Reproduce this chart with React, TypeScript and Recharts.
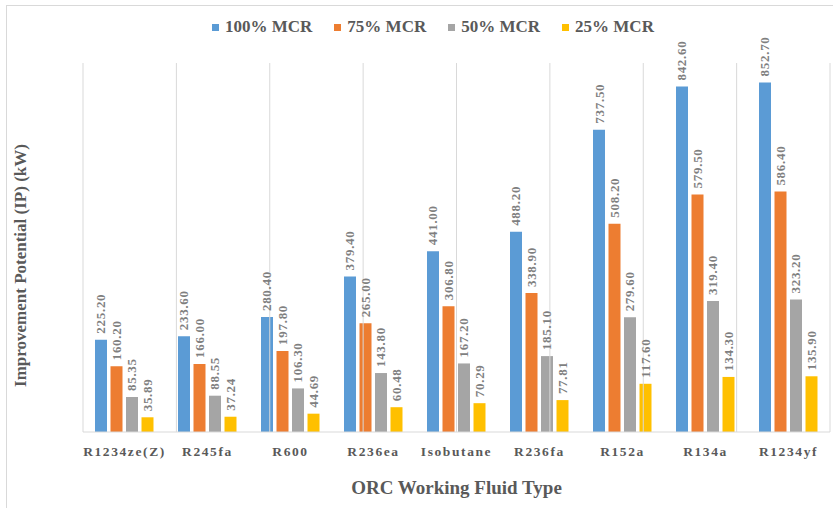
import React from "react";
import {
  Bar,
  BarChart,
  LabelList,
  Legend,
  ReferenceLine,
  XAxis,
  YAxis,
} from "recharts";

const fluids = [
  "R1234ze(Z)",
  "R245fa",
  "R600",
  "R236ea",
  "Isobutane",
  "R236fa",
  "R152a",
  "R134a",
  "R1234yf",
];
const mcr100 = [225.2, 233.6, 280.4, 379.4, 441.0, 488.2, 737.5, 842.6, 852.7];
const mcr75 = [160.2, 166.0, 197.8, 265.0, 306.8, 338.9, 508.2, 579.5, 586.4];
const mcr50 = [85.35, 88.55, 106.3, 143.8, 167.2, 185.1, 279.6, 319.4, 323.2];
const mcr25 = [35.89, 37.24, 44.69, 60.48, 70.29, 77.81, 117.6, 134.3, 135.9];
const seriesNames = ["100% MCR", "75% MCR", "50% MCR", "25% MCR"];
const colors = ["#5B9BD5", "#ED7D31", "#A5A5A5", "#FFC000"];
const boundaries = [0, 1, 2, 3, 4, 5, 6, 7, 8, 9];

const data = fluids.map((name, i) => ({
  name,
  a: mcr100[i],
  b: mcr75[i],
  c: mcr50[i],
  d: mcr25[i],
}));

const FONT = '"Liberation Serif", "Times New Roman", serif';

// value labels, rotated and sitting just above each bar
const renderValue = (props: any) => {
  const { x, y, width, value } = props;
  const cx = Number(x) + Number(width) / 2;
  const ty = Number(y) - 6;
  return (
    <text
      x={cx}
      y={ty}
      transform={`rotate(-90 ${cx} ${ty})`}
      textAnchor="start"
      dominantBaseline="central"
      fontFamily={FONT}
      fontWeight="bold"
      fontSize={13}
      letterSpacing={0.7}
      fill="#7F7F7F"
    >
      {Number(value).toFixed(2)}
    </text>
  );
};

const YTitle = (props: any) => {
  const vb = props.viewBox || {};
  const cx = 20;
  const cy = vb.y + vb.height / 2 + 18;
  return (
    <text
      x={cx}
      y={cy}
      transform={`rotate(-90 ${cx} ${cy})`}
      textAnchor="middle"
      dominantBaseline="central"
      fontFamily={FONT}
      fontWeight="bold"
      fontSize={17}
      fill="#595959"
    >
      Improvement Potential (IP) (kW)
    </text>
  );
};

const XTitle = (props: any) => {
  const vb = props.viewBox || {};
  return (
    <text
      x={vb.x + vb.width / 2}
      y={487}
      textAnchor="middle"
      dominantBaseline="central"
      fontFamily={FONT}
      fontWeight="bold"
      fontSize={19}
      fill="#595959"
    >
      ORC Working Fluid Type
    </text>
  );
};

const renderLegend = () => (
  <div
    style={{
      display: "flex",
      fontFamily: FONT,
      fontWeight: "bold",
      fontSize: 17,
      lineHeight: "20px",
      color: "#595959",
    }}
  >
    {seriesNames.map((s, i) => (
      <div
        key={s}
        style={{
          display: "flex",
          alignItems: "center",
          marginRight: 22,
        }}
      >
        <span
          style={{
            display: "inline-block",
            width: 7,
            height: 7,
            background: colors[i],
            marginRight: 6,
          }}
        />
        <span>{s}</span>
      </div>
    ))}
  </div>
);

export default function App() {
  const keys = ["a", "b", "c", "d"];
  return (
    <div
      style={{
        position: "absolute",
        left: 0,
        top: 0,
        width: 833,
        height: 508,
        overflow: "hidden",
        background: "#fff",
      }}
    >
      <div
        style={{
          position: "absolute",
          left: 6,
          top: 5,
          width: 900,
          height: 600,
          border: "1px solid #D9D9D9",
        }}
      />
      <BarChart
        width={833}
        height={508}
        data={data}
        margin={{ top: 63, right: 3, left: 0, bottom: 0 }}
        barSize={12}
        barGap={3.5}
        style={{ position: "absolute", left: 0, top: 0 }}
      >
        <XAxis
          xAxisId="cat"
          dataKey="name"
          height={76}
          axisLine={{ stroke: "#D9D9D9" }}
          tickLine={false}
          tickMargin={8}
          interval={0}
          tick={{
            fontFamily: FONT,
            fontWeight: "bold",
            fontSize: 13.5,
            fill: "#595959",
            letterSpacing: 1.6,
          }}
          label={<XTitle />}
        />
        <XAxis
          xAxisId="grid"
          type="number"
          domain={[0, 9]}
          ticks={boundaries}
          orientation="top"
          height={0}
          hide
        />
        <YAxis
          width={83}
          domain={[0, 900]}
          tick={false}
          axisLine={false}
          tickLine={false}
          label={<YTitle />}
        />
        {boundaries.map((b) => (
          <ReferenceLine key={b} x={b} xAxisId="grid" stroke="#D9D9D9" />
        ))}
        <Legend
          verticalAlign="middle"
          content={renderLegend}
          wrapperStyle={{ top: 17, left: 212, width: 560 }}
        />
        {keys.map((k, i) => (
          <Bar
            key={k}
            xAxisId="cat"
            dataKey={k}
            name={seriesNames[i]}
            fill={colors[i]}
            isAnimationActive={false}
          >
            <LabelList dataKey={k} content={renderValue} />
          </Bar>
        ))}
      </BarChart>
    </div>
  );
}
